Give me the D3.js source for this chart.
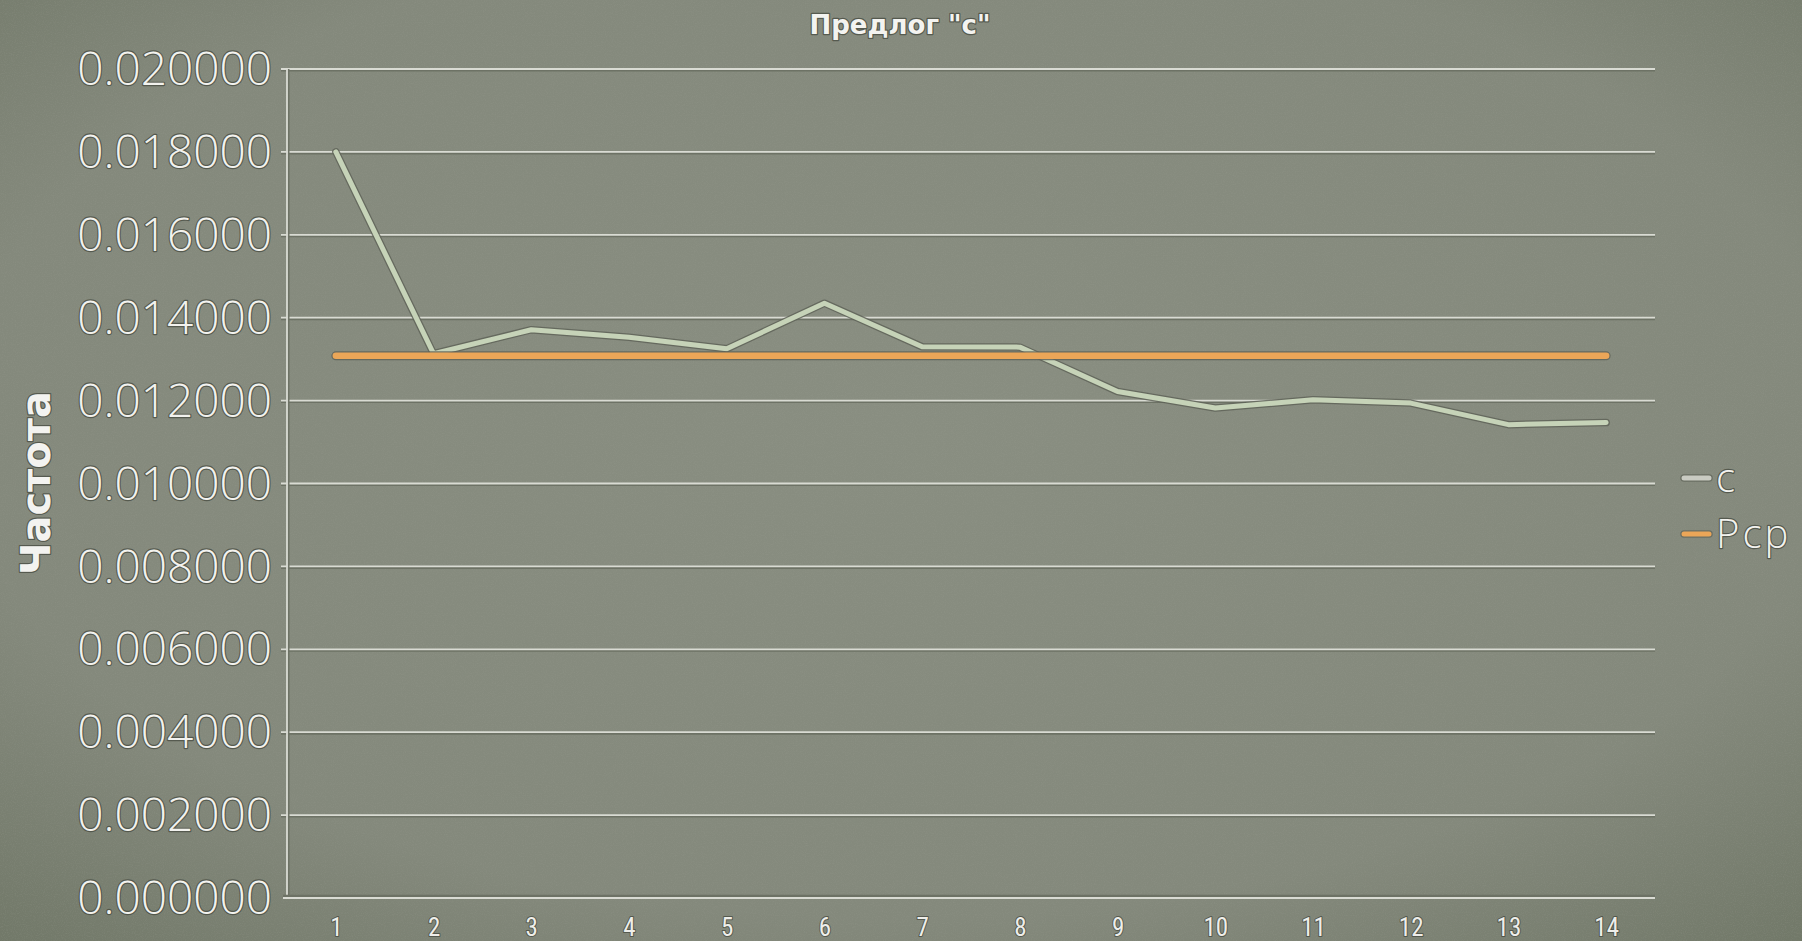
<!DOCTYPE html>
<html>
<head>
<meta charset="utf-8">
<script src="https://cdn.jsdelivr.net/npm/d3@7"></script>
<style>
  html, body { margin: 0; padding: 0; overflow: hidden; background: #858a7d; }
  svg { display: block; }
</style>
</head>
<body>
<svg id="chart" width="1802" height="941"></svg>
<script>
// ---- data ----
const categories = ["1","2","3","4","5","6","7","8","9","10","11","12","13","14"];
const seriesC   = [0.01800, 0.01313, 0.01371, 0.01353, 0.01325, 0.01435, 0.01330, 0.01329, 0.01222, 0.01182, 0.01202, 0.01194, 0.01142, 0.01147];
const seriesPcp = [0.01308, 0.01308, 0.01308, 0.01308, 0.01308, 0.01308, 0.01308, 0.01308, 0.01308, 0.01308, 0.01308, 0.01308, 0.01308, 0.01308];
const yTickValues = [0, 0.002, 0.004, 0.006, 0.008, 0.010, 0.012, 0.014, 0.016, 0.018, 0.020];
const seriesNames = ["c", "Pcp"];
const titleText = "Предлог \"с\"";
const yAxisTitle = "Частота";

const W = 1802, H = 941;
const plot = { left: 287, right: 1655, top: 69, bottom: 898 };

const svg = d3.select("#chart");
const defs = svg.append("defs");

// background gradient
const rg = defs.append("radialGradient").attr("id", "bg")
  .attr("cx", "50%").attr("cy", "45%").attr("r", "75%");
rg.append("stop").attr("offset", "0%").attr("stop-color", "#898e81");
rg.append("stop").attr("offset", "70%").attr("stop-color", "#84897c");
rg.append("stop").attr("offset", "100%").attr("stop-color", "#717868");

// subtle texture
const tex = defs.append("filter").attr("id", "tex").attr("x", 0).attr("y", 0).attr("width", "100%").attr("height", "100%");
tex.append("feTurbulence").attr("type", "fractalNoise").attr("baseFrequency", "0.9").attr("numOctaves", 2).attr("seed", 3).attr("result", "n");
tex.append("feColorMatrix").attr("type", "matrix")
  .attr("values", "0 0 0 0 0.35  0 0 0 0 0.37  0 0 0 0 0.32  0 0 0 -1.6 0.9");

svg.append("rect").attr("width", W).attr("height", H).attr("fill", "url(#bg)");
svg.append("rect").attr("width", W).attr("height", H).attr("filter", "url(#tex)").attr("opacity", 0.25);

// scales
const x = d3.scalePoint().domain(categories).range([plot.left, plot.right]).padding(0.5);
const y = d3.scaleLinear().domain([0, 0.02]).range([plot.bottom, plot.top]);

const textShadow = (sel, w) => sel.attr("stroke", "rgba(70,74,64,0.75)").attr("stroke-width", w)
  .attr("paint-order", "stroke").attr("stroke-linejoin", "round");

// gridlines (shadow + light line)
const grid = svg.append("g");
yTickValues.filter(v => v > 0).forEach(v => {
  grid.append("line").attr("x1", plot.left - 6).attr("x2", plot.right)
    .attr("y1", y(v) + 1.5).attr("y2", y(v) + 1.5)
    .attr("stroke", "#6d7265").attr("stroke-width", 2);
  grid.append("line").attr("x1", plot.left - 6).attr("x2", plot.right)
    .attr("y1", y(v)).attr("y2", y(v))
    .attr("stroke", "#d9dbd3").attr("stroke-width", 1.8);
});

// axes lines
const axG = svg.append("g");
axG.append("line").attr("x1", plot.left + 1.5).attr("x2", plot.left + 1.5)
  .attr("y1", plot.top).attr("y2", plot.bottom).attr("stroke", "#6d7265").attr("stroke-width", 2);
axG.append("line").attr("x1", plot.left).attr("x2", plot.left)
  .attr("y1", plot.top).attr("y2", plot.bottom).attr("stroke", "#d9dbd3").attr("stroke-width", 1.8);
axG.append("line").attr("x1", plot.left - 4).attr("x2", plot.right)
  .attr("y1", plot.bottom - 2).attr("y2", plot.bottom - 2).attr("stroke", "#6d7265").attr("stroke-width", 2.5);
axG.append("line").attr("x1", plot.left - 4).attr("x2", plot.right)
  .attr("y1", plot.bottom).attr("y2", plot.bottom).attr("stroke", "#d9dbd3").attr("stroke-width", 1.8);

// Y axis labels via d3 axis
const yAxis = d3.axisLeft(y).tickValues(yTickValues).tickFormat(d3.format(".6f")).tickSize(0).tickPadding(15);
const yg = svg.append("g").attr("transform", `translate(${plot.left},0)`).call(yAxis);
yg.select(".domain").remove();
yg.selectAll("text")
  .attr("font-family", "'Open Sans', 'Noto Sans', 'DejaVu Sans', sans-serif")
  .attr("font-weight", 300)
  .attr("font-size", 46)
  .attr("dy", "0.34em")
  .attr("fill", "#f2f2ee")
  .call(textShadow, 2.4);

// X axis labels
const xAxis = d3.axisBottom(x).tickSize(0).tickPadding(20);
const xg = svg.append("g").attr("transform", `translate(0,${plot.bottom})`).call(xAxis);
xg.select(".domain").remove();
xg.selectAll("text")
  .attr("font-family", "'Liberation Sans Narrow', 'Roboto Condensed', 'Liberation Sans', sans-serif")
  .attr("font-size", 25)
  .attr("fill", "#eeeeea")
  .call(textShadow, 2);

// lines
const line = d3.line().x((d, i) => x(categories[i])).y(d => y(d));

function drawSeries(data, color, width) {
  svg.append("path").datum(data).attr("d", line).attr("fill", "none")
    .attr("stroke", "#5f6358").attr("stroke-width", width + 2.5)
    .attr("stroke-linejoin", "round").attr("stroke-linecap", "round").attr("opacity", 0.85);
  svg.append("path").datum(data).attr("d", line).attr("fill", "none")
    .attr("stroke", color).attr("stroke-width", width)
    .attr("stroke-linejoin", "round").attr("stroke-linecap", "round");
}
drawSeries(seriesC, "#c6d3b8", 5);
drawSeries(seriesPcp, "#eba658", 6.5);

// title
svg.append("text").attr("x", 900).attr("y", 34).attr("text-anchor", "middle")
  .attr("font-family", "'DejaVu Sans', sans-serif").attr("font-weight", "bold")
  .attr("font-size", 26).attr("fill", "#f3f3f0")
  .call(textShadow, 2.5)
  .text(titleText);

// y axis title
svg.append("text")
  .attr("transform", "translate(50,483) rotate(-90)")
  .attr("text-anchor", "middle")
  .attr("font-family", "'DejaVu Sans', sans-serif").attr("font-weight", "bold")
  .attr("font-size", 40).attr("fill", "#f3f3f0")
  .call(textShadow, 2.5)
  .text(yAxisTitle);

// legend
const legColors = ["#c9cbc2", "#eba658"];
const legY = [478, 534];
const leg = svg.append("g");
seriesNames.forEach((name, i) => {
  leg.append("line").attr("x1", 1684).attr("x2", 1709).attr("y1", legY[i]).attr("y2", legY[i])
    .attr("stroke", "#5f6358").attr("stroke-width", 7.5).attr("stroke-linecap", "round").attr("opacity", 0.7);
  leg.append("line").attr("x1", 1684).attr("x2", 1709).attr("y1", legY[i]).attr("y2", legY[i])
    .attr("stroke", legColors[i]).attr("stroke-width", 5).attr("stroke-linecap", "round");
  leg.append("text").attr("x", 1716).attr("y", legY[i]).attr("dy", "0.35em")
    .attr("font-family", "'Open Sans', 'Noto Sans', 'DejaVu Sans', sans-serif")
    .attr("font-weight", 300).attr("font-size", 40).attr("letter-spacing", 3).attr("fill", "#f2f2ee")
    .call(textShadow, 2.4)
    .text(name);
});
</script>
</body>
</html>
